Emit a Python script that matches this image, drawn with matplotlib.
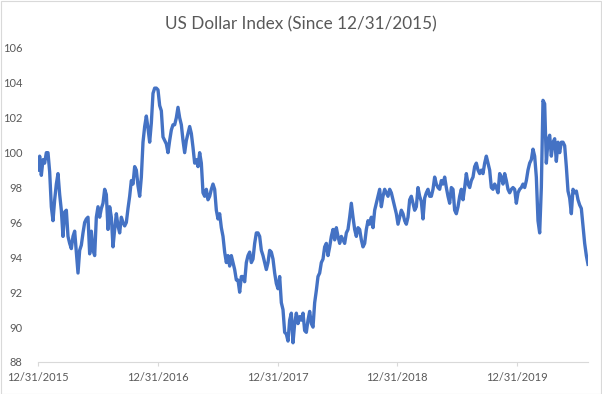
import numpy as np
import pandas as pd
import matplotlib
matplotlib.use("Agg")
import matplotlib.pyplot as plt
import matplotlib.dates as mdates
from matplotlib.patches import Rectangle

title = "US Dollar Index (Since 12/31/2015)"
start_date = "2015-12-31"
end_date = "2020-08-04"
tick_dates = ["2015-12-31", "2016-12-31", "2017-12-31", "2018-12-31", "2019-12-31"]
y_ticks = [88, 90, 92, 94, 96, 98, 100, 102, 104, 106]

dxy = [
    99.0, 99.8, 98.7, 99.6, 99.4, 100.0, 100.0, 98.9, 96.9, 96.1,
    97.3, 98.2, 98.8, 97.6, 96.7, 95.2, 96.6, 96.7, 95.2, 94.8,
    94.5, 95.2, 95.5, 94.3, 93.1, 94.4, 94.7, 95.4, 96.0, 96.2,
    96.3, 94.2, 95.5, 94.4, 94.1, 96.3, 96.9, 96.3, 96.8, 97.1,
    97.9, 97.6, 95.6, 96.9, 96.3, 94.6, 95.6, 96.5, 95.8, 95.4,
    96.3, 96.0, 95.8, 96.0, 96.8, 97.5, 98.4, 98.2, 99.2, 99.0,
    98.1, 97.5, 98.6, 100.6, 101.5, 102.1, 101.4, 100.6, 101.7, 103.4,
    103.7, 103.7, 103.6, 102.7, 102.4, 100.9, 100.7, 100.5, 100.0, 100.7,
    101.3, 101.6, 101.6, 102.0, 102.6, 102.0, 101.6, 100.7, 100.0, 100.7,
    101.1, 101.5, 101.1, 100.3, 99.4, 99.6, 99.2, 100.0, 99.4, 97.7,
    97.5, 97.9, 97.3, 97.5, 97.9, 98.2, 97.9, 96.7, 96.2, 96.5,
    95.7, 95.2, 94.3, 93.7, 94.1, 93.5, 94.1, 93.7, 93.3, 92.7,
    92.7, 92.0, 92.9, 92.9, 92.6, 93.7, 94.1, 94.3, 93.7, 93.9,
    94.8, 95.4, 95.4, 95.2, 94.4, 94.1, 93.7, 93.3, 93.7, 94.4,
    94.3, 93.9, 93.1, 92.5, 92.2, 92.9, 91.4, 91.0, 89.7, 89.6,
    89.2, 90.4, 90.8, 89.1, 90.2, 90.8, 90.2, 90.6, 90.4, 90.8,
    89.8, 89.7, 90.4, 90.9, 90.2, 90.0, 91.4, 92.1, 92.9, 93.1,
    93.7, 93.9, 94.6, 94.8, 94.1, 94.6, 95.2, 95.6, 95.0, 95.7,
    95.2, 94.8, 95.2, 95.0, 94.8, 95.4, 95.6, 96.3, 97.1, 96.3,
    95.6, 95.2, 95.7, 95.6, 95.0, 94.6, 94.8, 95.6, 96.1, 95.9,
    96.3, 95.7, 96.7, 97.1, 97.5, 97.9, 96.9, 97.5, 97.9, 97.7,
    97.5, 97.9, 97.7, 97.3, 96.9, 96.5, 95.9, 96.3, 96.7, 96.5,
    96.1, 95.9, 96.3, 97.3, 97.5, 97.1, 96.7, 96.9, 98.0, 97.5,
    97.2, 96.2, 97.4, 97.7, 97.9, 97.5, 97.5, 97.9, 98.6, 98.2,
    98.0, 97.9, 98.4, 98.2, 98.6, 98.0, 97.5, 97.1, 98.0, 97.9,
    96.7, 96.5, 96.9, 97.5, 97.9, 97.3, 98.0, 98.8, 98.2, 98.0,
    98.4, 98.6, 99.2, 99.4, 99.0, 98.8, 99.0, 98.8, 99.4, 99.8,
    99.4, 99.0, 98.0, 97.9, 98.2, 98.0, 97.7, 98.8, 98.6, 98.2,
    98.8, 98.4, 97.9, 97.7, 97.9, 98.0, 97.9, 97.1, 97.7, 97.9,
    98.0, 98.2, 98.0, 98.4, 99.0, 99.4, 99.6, 100.2, 99.8, 98.6,
    96.1, 95.4, 98.0, 103.0, 102.8, 99.4, 100.7, 101.0, 99.8, 100.6,
    100.8, 99.5, 100.6, 100.0, 100.6, 100.6, 100.4, 99.2, 97.8, 97.4,
    96.5, 97.9, 97.7, 97.8, 97.3, 97.0, 96.8, 95.8, 94.8, 94.1,
    93.6,
]

dates = pd.date_range(start_date, end_date, periods=len(dxy))

fig = plt.figure(figsize=(6.02, 3.94), dpi=100)
fig.patch.set_facecolor("white")
fig.patches.append(Rectangle((0.001, 0.001), 0.997, 0.997, transform=fig.transFigure,
                             fill=False, edgecolor="#D9D9D9", linewidth=0.8))

ax = fig.add_axes([38 / 602, 1 - 362 / 394, 550 / 602, (362 - 48) / 394])
ax.plot(dates, dxy, color="#4472C4", linewidth=2.4, solid_joinstyle="round")

ax.set_xlim(pd.Timestamp(start_date), pd.Timestamp(end_date))
ax.set_ylim(88, 106)
ax.set_yticks(y_ticks)
ax.set_xticks(pd.to_datetime(tick_dates))
ax.xaxis.set_major_formatter(mdates.DateFormatter("%m/%d/%Y"))

font = "Lato"
for lab in ax.get_xticklabels() + ax.get_yticklabels():
    lab.set_fontfamily(font)
    lab.set_fontsize(8)
    lab.set_color("#595959")

for s in ["top", "right", "left"]:
    ax.spines[s].set_visible(False)
ax.spines["bottom"].set_color("#D9D9D9")
ax.spines["bottom"].set_linewidth(0.8)
ax.tick_params(axis="y", length=0, pad=11)
ax.tick_params(axis="x", length=3, color="#D9D9D9", pad=4)

fig.text(0.5, 1 - 24 / 394, title, ha="center", va="center",
         fontsize=12.3, color="#595959", fontfamily=font)

fig.savefig("out.png", dpi=100)
